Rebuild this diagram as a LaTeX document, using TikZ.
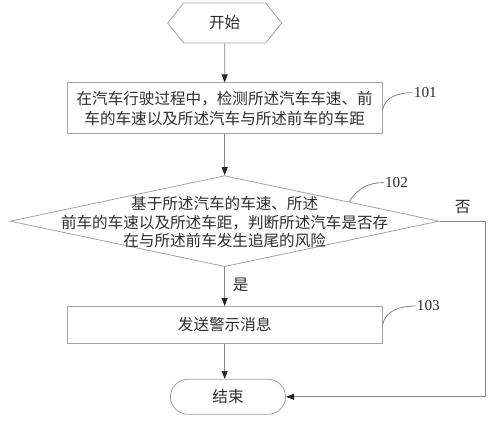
\documentclass[tikz,border=0pt]{standalone}
\usepackage{fontspec}
\setmainfont{Liberation Serif}
\newfontfamily\cjk{Noto Sans CJK SC}
\usepackage{tikz}
\usetikzlibrary{shapes.geometric, shapes.misc, shapes.symbols,
    arrows.meta, positioning, calc}
\definecolor{linegray}{RGB}{135,135,135}
\definecolor{boxgray}{RGB}{165,165,165}
\definecolor{textgray}{RGB}{45,45,45}
\newcommand{\cnfont}{\cjk\fontsize{13.3pt}{17pt}\selectfont}
\tikzset{
  boxline/.style={draw=boxgray, line width=0.7pt},
  cntext/.style={font=\cnfont, text=textgray},
}

\begin{document}
\begin{tikzpicture}[
  x=1cm,y=1cm,
  terminal/.style={
    signal, signal to=west and east, signal pointer angle=103,
    boxline, cntext,
    minimum width=3.42cm, minimum height=1.2cm
  },
  stepbox/.style={
    rectangle, boxline, cntext,
    minimum width=9.45cm, align=center
  },
  decision/.style={
    diamond, boxline, inner sep=0pt,
    minimum width=12.87cm, minimum height=2.73cm
  },
  endbox/.style={
    rounded rectangle, boxline, cntext,
    minimum width=3.69cm, minimum height=1.05cm
  },
  arrow/.style={-{Triangle[length=2.4mm,width=1.8mm,color=black!85]},
    draw=linegray, line width=0.7pt},
  lead/.style={draw=linegray, line width=0.7pt},
  tag/.style={font=\fontsize{13pt}{15pt}\selectfont, text=textgray, inner sep=1pt},
  note/.style={cntext, inner sep=1pt}
]
\useasboundingbox (0,0) rectangle (14.82,-12.6);

% ---- Main chain ----
\node[terminal] (start) at (6.74,-0.69) {开始};
\node[stepbox, minimum height=1.53cm, below=1.17cm of start] (detect)
  {在汽车行驶过程中，检测所述汽车车速、前\\车的车速以及所述汽车与所述前车的车距};
\node[decision, below=1.23cm of detect] (judge) {};
\node[note, align=center, font=\cjk\fontsize{13.3pt}{15.8pt}\selectfont,
  yshift=-0.04cm] (judgetext) at (judge.center)
  {基于所述汽车的车速、所述\\前车的车速以及所述车距，判断所述汽车是否存\\在与所述前车发生追尾的风险};
\node[stepbox, minimum height=1.11cm, below=1.17cm of judge] (warn) {发送警示消息};
\node[endbox, below=1.05cm of warn, xshift=0.1cm] (end) {结束};

% ---- Connectors ----
\draw[arrow] (start) -- (detect);
\draw[arrow] (detect) -- (judge);
\draw[arrow] (judge) -- node[note, right=0.2cm, yshift=0.05cm] {是} (warn);
\draw[arrow] (warn) -- (end.north -| warn.south);

% ---- "No" branch round the right side ----
\coordinate (turn) at ($(judge.east)+(1.38,0)$);
\draw[arrow] (judge.east) -- node[note, above=0.18cm] {否} (turn) |- (end.east);

% ---- Step numbers ----
\node[tag, anchor=west] (n101) at ($(detect.east)+(0.9,0.47)$) {101};
\draw[lead] ([yshift=-0.05cm]detect.east) to[out=80,in=180] (n101.west);

\coordinate (edge102) at ($(judge.north)!0.58!(judge.east)$);
\node[tag, anchor=west] (n102) at ($(judge.north)+(4.77,-0.22)$) {102};
\draw[lead] (edge102) to[out=60,in=180] (n102.west);

\node[tag, anchor=west] (n103) at ($(warn.east)+(0.99,0.57)$) {103};
\draw[lead] (warn.east) to[out=80,in=180] (n103.west);

\end{tikzpicture}
\end{document}
